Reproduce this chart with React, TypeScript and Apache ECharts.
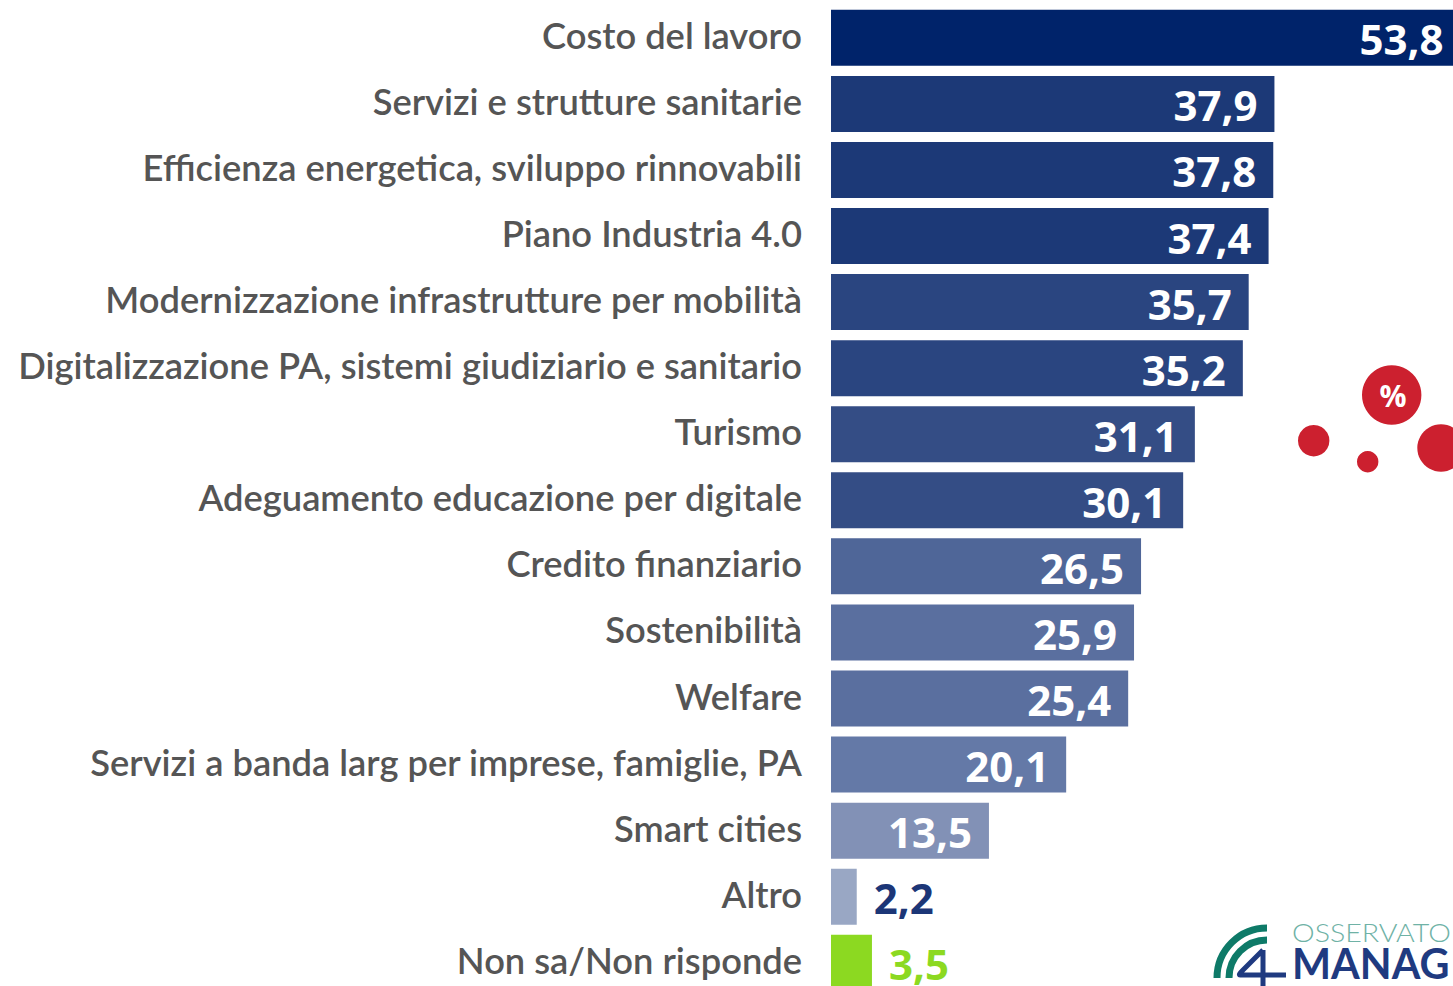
import React, { useEffect, useRef } from "react";
import * as echarts from "echarts";

const categories = [
  "Costo del lavoro",
  "Servizi e strutture sanitarie",
  "Efficienza energetica, sviluppo rinnovabili",
  "Piano Industria 4.0",
  "Modernizzazione infrastrutture per mobilità",
  "Digitalizzazione PA, sistemi giudiziario e sanitario",
  "Turismo",
  "Adeguamento educazione per digitale",
  "Credito finanziario",
  "Sostenibilità",
  "Welfare",
  "Servizi a banda larg per imprese, famiglie, PA",
  "Smart cities",
  "Altro",
  "Non sa/Non risponde",
];
const values = [53.8, 37.9, 37.8, 37.4, 35.7, 35.2, 31.1, 30.1, 26.5, 25.9, 25.4, 20.1, 13.5, 2.2, 3.5];
const barColors = [
  "#00236a", "#1c3977", "#1c3977", "#1c3977", "#2a4580", "#2a4580", "#344d85", "#344d85",
  "#4f6698", "#5a6f9f", "#5a6f9f", "#6479a7", "#8291b6", "#99a7c4", "#8cd921",
];
const outsideColors: Record<string, string> = { "2.2": "#1c3677", "3.5": "#8cd921" };

const LABEL_FONT = "Lato";
const VALUE_FONT = "Open Sans";

export default function App() {
  const ref = useRef<HTMLDivElement>(null);
  useEffect(() => {
    const chart = echarts.init(ref.current!, undefined, { renderer: "svg" });
    echarts.graphic.registerShape(
      "logoFour",
      echarts.graphic.extendPath("M1263 950 L1263 990 M1263 950 L1243 970 Q1238 975 1240 975 L1286 975", {})
    );
    chart.setOption({
      animation: false,
      backgroundColor: "#ffffff",
      grid: { left: 831, top: 4.8, width: 702, height: 991, outerBoundsMode: "none" },
      xAxis: { type: "value", min: 0, max: 60, show: false },
      yAxis: {
        type: "category",
        inverse: true,
        data: categories,
        axisLine: { show: false },
        axisTick: { show: false },
        axisLabel: {
          margin: 29,
          fontFamily: LABEL_FONT,
          fontSize: 36.3,
          fontWeight: 600,
          color: "#555555",
          align: "right",
          verticalAlign: "bottom",
          lineHeight: 6,
        },
      },
      series: [
        {
          type: "bar",
          barWidth: 56,
          data: values.map((v, i) => {
            const outside = v < 5;
            return {
              value: v,
              itemStyle: { color: barColors[i] },
              label: {
                show: true,
                position: outside ? "right" : "insideRight",
                distance: 17,
                offset: [0, 1],
                formatter: () => String(v).replace(".", ","),
                fontFamily: VALUE_FONT,
                fontWeight: 700,
                fontSize: 42,
                color: outside ? outsideColors[String(v)] : "#ffffff",
              },
            };
          }),
        },
      ],
      graphic: [
        { type: "circle", shape: { cx: 1391.7, cy: 395, r: 29.7 }, style: { fill: "#cc202f" } },
        { type: "circle", shape: { cx: 1313.7, cy: 440.7, r: 15.7 }, style: { fill: "#cc202f" } },
        { type: "circle", shape: { cx: 1367.7, cy: 461.7, r: 10.7 }, style: { fill: "#cc202f" } },
        { type: "circle", shape: { cx: 1441, cy: 448, r: 23.7 }, style: { fill: "#cc202f" } },
        {
          type: "text",
          x: 1393,
          y: 395,
          style: {
            text: "%",
            fill: "#ffffff",
            font: "700 30px 'Open Sans'",
            textAlign: "center",
            textVerticalAlign: "middle",
          },
        },
        {
          type: "arc",
          shape: { cx: 1267, cy: 978, r: 50, startAngle: Math.PI, endAngle: Math.PI * 1.5 },
          style: { stroke: "#0e7a68", lineWidth: 7, fill: "none" },
        },
        {
          type: "arc",
          shape: { cx: 1267, cy: 978, r: 38, startAngle: Math.PI, endAngle: Math.PI * 1.5 },
          style: { stroke: "#0e7a68", lineWidth: 7, fill: "none" },
        },
        { type: "logoFour", style: { stroke: "#1f3a80", lineWidth: 5, fill: "none" } },
        {
          type: "text",
          x: 1292,
          y: 932,
          scaleX: 1.1,
          style: {
            text: "OSSERVATO",
            fill: "#6fb2a6",
            font: "300 26px 'Lato'",
            textAlign: "left",
            textVerticalAlign: "middle",
          },
        },
        {
          type: "text",
          x: 1292,
          y: 963,
          scaleX: 0.985,
          style: {
            text: "MANAG",
            fill: "#1f3a80",
            font: "700 42px 'Lato'",
            textAlign: "left",
            textVerticalAlign: "middle",
          },
        },
      ],
    });
    return () => chart.dispose();
  }, []);
  return (
    <div style={{ position: "fixed", left: 0, top: 0, width: 1453, height: 986, overflow: "hidden" }}>
      <div ref={ref} style={{ width: 1453, height: 986 }} />
    </div>
  );
}
